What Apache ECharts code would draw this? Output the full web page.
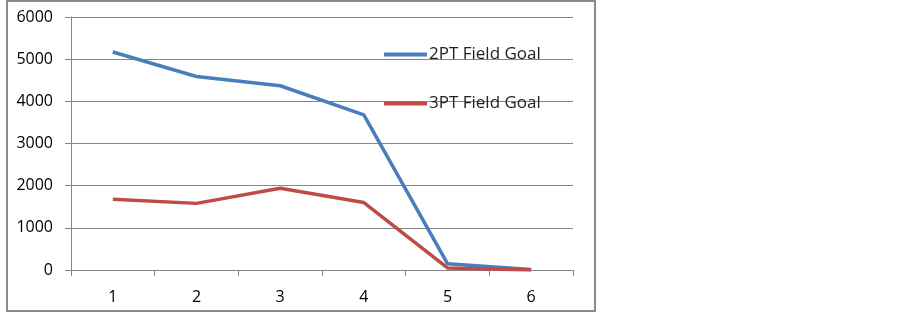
<!DOCTYPE html>
<html>
<head>
<meta charset="utf-8">
<script src="https://cdn.jsdelivr.net/npm/echarts@6/dist/echarts.min.js"></script>
<style>
  html, body { margin: 0; padding: 0; background: #fff; }
  #chart { width: 903px; height: 313px; }
</style>
</head>
<body>
<div id="chart"></div>
<script>
const categories = ['1', '2', '3', '4', '5', '6'];
const twoPoint = [5170, 4590, 4370, 3680, 150, 10];
const threePoint = [1680, 1580, 1940, 1600, 50, 0];
const yTicks = [0, 1000, 2000, 3000, 4000, 5000, 6000];

const chart = echarts.init(document.getElementById('chart'), null, { renderer: 'canvas' });
const labelFont = { fontFamily: 'Open Sans', fontSize: 16, color: '#000' };

chart.setOption({
  animation: false,
  backgroundColor: '#fff',
  graphic: [{
    type: 'rect',
    shape: { x: 7, y: 1, width: 588, height: 310 },
    style: { fill: 'none', stroke: '#8a8a8a', lineWidth: 2 },
    silent: true
  }],
  legend: {
    orient: 'vertical',
    left: 384,
    top: 46,
    padding: 0,
    itemWidth: 43,
    itemHeight: 4,
    itemGap: 32,
    icon: 'rect',
    textStyle: { fontFamily: 'Open Sans', fontSize: 17, color: '#222', padding: [0, 0, 0, -3] },
    data: ['2PT Field Goal', '3PT Field Goal']
  },
  grid: { left: 71, top: 17, width: 502, height: 253, containLabel: false },
  xAxis: {
    type: 'category',
    data: categories,
    boundaryGap: true,
    axisLine: { lineStyle: { color: '#868686', width: 1 } },
    axisTick: { show: true, length: 6, lineStyle: { color: '#868686' } },
    axisLabel: Object.assign({ margin: 19 }, labelFont),
    splitLine: { show: false }
  },
  yAxis: {
    type: 'value',
    min: yTicks[0],
    max: yTicks[yTicks.length - 1],
    interval: 1000,
    axisLine: { show: true, lineStyle: { color: '#868686', width: 1 } },
    axisTick: { show: true, length: 6, lineStyle: { color: '#868686' } },
    axisLabel: Object.assign({ margin: 18, formatter: v => String(v) }, labelFont),
    splitLine: { lineStyle: { color: '#868686', width: 1 } }
  },
  series: [
    {
      name: '2PT Field Goal',
      type: 'line',
      data: twoPoint,
      symbol: 'none',
      color: '#4a7ebb',
      lineStyle: { width: 3.5, color: '#4a7ebb' }
    },
    {
      name: '3PT Field Goal',
      type: 'line',
      data: threePoint,
      symbol: 'none',
      color: '#be4b48',
      lineStyle: { width: 3.5, color: '#be4b48' }
    }
  ]
});
</script>
</body>
</html>
